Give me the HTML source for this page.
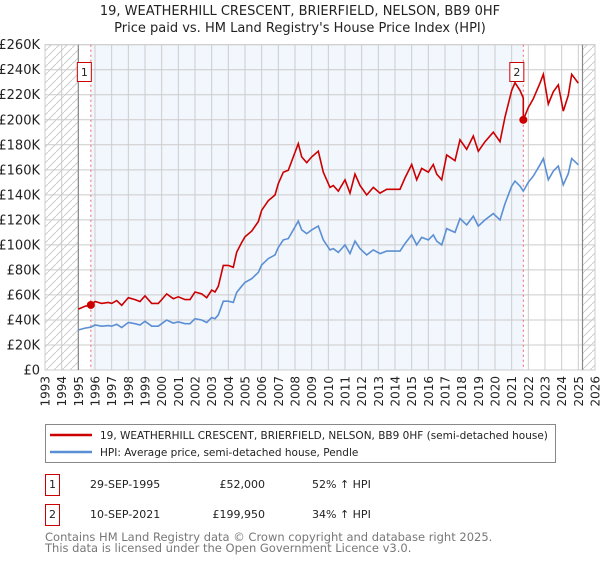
<!DOCTYPE html>
<html><head><meta charset="utf-8">
<style>
body{margin:0;background:#fff;width:600px;height:560px;overflow:hidden;font-family:"Liberation Sans","DejaVu Sans",sans-serif;}
svg text{font-family:"DejaVu Sans","Liberation Sans",sans-serif;}
</style></head>
<body>
<svg id="chart" width="600" height="560" xmlns="http://www.w3.org/2000/svg">
<defs>
<pattern id="hatch" patternUnits="userSpaceOnUse" width="8" height="8">
<path d="M0,8 L8,0" stroke="#ccc" stroke-width="1"/>
</pattern>
</defs>
<text x="300" y="15" text-anchor="middle" font-size="13" fill="#222">19, WEATHERHILL CRESCENT, BRIERFIELD, NELSON, BB9 0HF</text>
<text x="300" y="32" text-anchor="middle" font-size="13" fill="#222">Price paid vs. HM Land Registry's House Price Index (HPI)</text>
<g id="plot"></g>
<g>
<rect x="45.5" y="424.5" width="510" height="38" fill="#fff" stroke="#888"/>
<line x1="50" y1="435" x2="92" y2="435" stroke="#cc0000" stroke-width="2.5"/>
<text x="100" y="439" font-size="10.5" fill="#222">19, WEATHERHILL CRESCENT, BRIERFIELD, NELSON, BB9 0HF (semi-detached house)</text>
<line x1="50" y1="452" x2="92" y2="452" stroke="#5b8fd4" stroke-width="2.5"/>
<text x="100" y="456" font-size="10.5" fill="#222">HPI: Average price, semi-detached house, Pendle</text>
</g>
<g font-size="11" fill="#222">
<rect x="45.5" y="474.5" width="14" height="21" fill="#fff" stroke="#cc0000"/>
<text x="52.5" y="488" text-anchor="middle">1</text>
<text x="90" y="488">29-SEP-1995</text>
<text x="265" y="488" text-anchor="end">£52,000</text>
<text x="312" y="488">52% ↑ HPI</text>
<rect x="45.5" y="504.5" width="14" height="21" fill="#fff" stroke="#cc0000"/>
<text x="52.5" y="518" text-anchor="middle">2</text>
<text x="90" y="518">10-SEP-2021</text>
<text x="265" y="518" text-anchor="end">£199,950</text>
<text x="312" y="518">34% ↑ HPI</text>
</g>
<text x="45" y="541" font-size="11.5" fill="#777">Contains HM Land Registry data © Crown copyright and database right 2025.</text>
<text x="45" y="552" font-size="11.5" fill="#777">This data is licensed under the Open Government Licence v3.0.</text>
</svg>
<script>
const yTicks=[0,20,40,60,80,100,120,140,160,180,200,220,240,260];
const xYears=[1993,1994,1995,1996,1997,1998,1999,2000,2001,2002,2003,2004,2005,2006,2007,2008,2009,2010,2011,2012,2013,2014,2015,2016,2017,2018,2019,2020,2021,2022,2023,2024,2025,2026];
const hpiDates=[1995.0,1995.4,1995.75,1996.0,1996.4,1996.8,1997.0,1997.3,1997.6,1998.0,1998.4,1998.7,1999.0,1999.4,1999.8,2000.0,2000.3,2000.7,2001.0,2001.4,2001.7,2002.0,2002.4,2002.7,2003.0,2003.2,2003.4,2003.7,2004.0,2004.3,2004.5,2004.8,2005.0,2005.4,2005.8,2006.0,2006.4,2006.8,2007.0,2007.3,2007.6,2007.9,2008.2,2008.4,2008.7,2009.0,2009.4,2009.7,2010.1,2010.3,2010.6,2011.0,2011.3,2011.6,2011.9,2012.3,2012.7,2013.1,2013.5,2013.9,2014.3,2014.6,2015.0,2015.3,2015.6,2016.0,2016.3,2016.5,2016.8,2017.1,2017.6,2017.9,2018.3,2018.7,2019.0,2019.4,2019.9,2020.3,2020.6,2021.0,2021.2,2021.5,2021.7,2022.0,2022.3,2022.7,2022.9,2023.2,2023.5,2023.8,2024.1,2024.4,2024.6,2025.0];
const hpiValues=[32,33.5,34.2,36,35,35.5,35,36.5,34,38,37,36,39,35,35,37,40,37.5,38.5,37,37,41,40,38,42,41,44,55,55,54,62,67,70,73,78,84,89,92,98,104,105,112,119,112,109,112,115,104,96,97,94,100,93,103,97,92,96,93,95,95,95,101,108,100,106,104,108,103,100,113,110,121,116,123,115,120,125,120,133,147,151,147,143,150,155,164,169,152,159,163,148,157,169,164];
const saleDates=[1995.75,2021.7];
const salePrices=[52000,199950];
const saleLabels=["1","2"];

const L=45,R=595,T=44.7,B=370,X0=1993,X1=2026,YMAX=260;
const xs=y=>L+(y-X0)/(X1-X0)*(R-L);
const ys=v=>B-v/YMAX*(B-T);
const NS="http://www.w3.org/2000/svg";
const g=document.getElementById('plot');
function mk(t,a){const e=document.createElementNS(NS,t);for(const k in a)e.setAttribute(k,a[k]);g.appendChild(e);return e;}

function hpiAt(d){for(let i=0;i<hpiDates.length-1;i++){if(d>=hpiDates[i]&&d<=hpiDates[i+1]){const f=(d-hpiDates[i])/(hpiDates[i+1]-hpiDates[i]);return hpiValues[i]+f*(hpiValues[i+1]-hpiValues[i]);}}return hpiValues[hpiValues.length-1];}

const hpiStart=hpiDates[0], hpiEnd=2025.25;
let bg=mk('rect',{x:L,y:T,width:R-L,height:B-T,fill:'#fff'});


let sh=mk('rect',{x:xs(saleDates[0]),y:T,width:xs(saleDates[1])-xs(saleDates[0]),height:B-T,fill:'#f2f6fd'});


let h1=mk('rect',{x:L,y:T,width:xs(hpiStart)-L,height:B-T,fill:'url(#hatch)'});


let h2=mk('rect',{x:xs(hpiEnd),y:T,width:R-xs(hpiEnd),height:B-T,fill:'url(#hatch)'});



yTicks.forEach(v=>{
 const l=mk('line',{x1:L,x2:R,y1:ys(v),y2:ys(v),stroke:'#ccc','stroke-width':1});
 
 
 const t=mk('text',{x:40,y:ys(v)+4.5,'text-anchor':'end','font-size':13,fill:'#222'});
 t.textContent=v===0?'£0':'£'+v+'K';
 
 
});
xYears.forEach(yr=>{
 const x=xs(yr);
 const l=mk('line',{x1:x,x2:x,y1:T,y2:B,stroke:'#ccc','stroke-width':1});
 
 
 const t=mk('text',{x:0,y:0,'text-anchor':'end','font-size':12,fill:'#222',transform:`translate(${x+4.5},376) rotate(-90)`});
 t.textContent=yr;
 
 
});
let fr=mk('rect',{x:L,y:T,width:R-L,height:B-T,fill:'none',stroke:'#ccc'});


[hpiStart,hpiEnd].forEach(d=>{
 const l=mk('line',{x1:xs(d),x2:xs(d),y1:T,y2:B,stroke:'#888','stroke-width':1.2});
 
 
});
saleDates.forEach(d=>{
 const l=mk('line',{x1:xs(d),x2:xs(d),y1:T,y2:B,stroke:'#e66','stroke-width':1,'stroke-dasharray':'2,3'});
 
 
});

let p='';
hpiDates.forEach((d,i)=>{p+=(i?'L':'M')+xs(d).toFixed(1)+','+ys(hpiValues[i]).toFixed(1);});
let hl=mk('path',{d:p,fill:'none',stroke:'#5b8fd4','stroke-width':1.6});



const r1=salePrices[0]/1000/hpiAt(saleDates[0]), r2=salePrices[1]/1000/hpiAt(saleDates[1]);
let q='',prevRatio=r1;
hpiDates.forEach((d,i)=>{
 const r=d<saleDates[1]?r1:r2;
 if(r!==prevRatio){q+='L'+xs(saleDates[1]).toFixed(1)+','+ys(hpiAt(saleDates[1])*r1).toFixed(1)+'L'+xs(saleDates[1]).toFixed(1)+','+ys(salePrices[1]/1000).toFixed(1);prevRatio=r;}
 q+=(i?'L':'M')+xs(d).toFixed(1)+','+ys(hpiValues[i]*r).toFixed(1);
});
let pl=mk('path',{d:q,fill:'none',stroke:'#cc0000','stroke-width':1.6});



saleDates.forEach((d,i)=>{
 const c=mk('circle',{cx:xs(d),cy:ys(salePrices[i]/1000),r:4,fill:'#cc0000'});
 
 
 const bx=mk('rect',{x:xs(d)-13.5,y:62.5,width:14,height:19,fill:'#fff',stroke:'#cc0000'});
 
 
 const t=mk('text',{x:xs(d)-6.5,y:76,'text-anchor':'middle','font-size':11,fill:'#222'});
 t.textContent=saleLabels[i];
 
 
});
</script>
</body></html>
